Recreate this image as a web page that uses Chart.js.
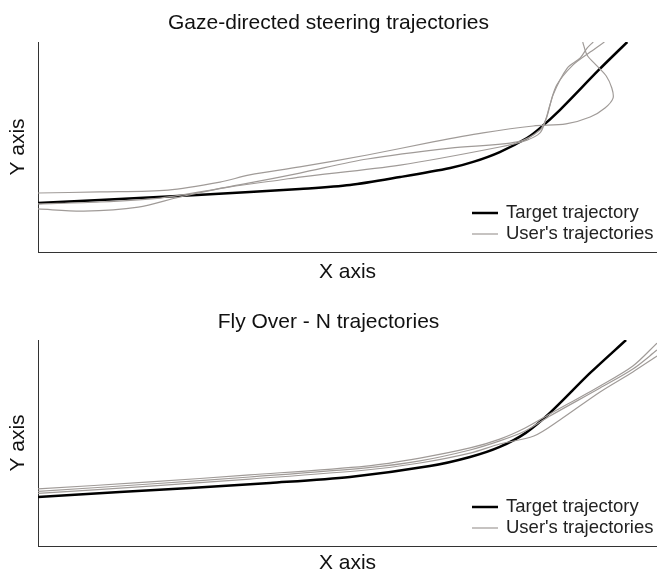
<!DOCTYPE html>
<html>
<head>
<meta charset="utf-8">
<script src="https://cdn.jsdelivr.net/npm/chart.js@4/dist/chart.umd.min.js"></script>
<style>
  html, body { margin: 0; padding: 0; background: #fff; overflow: hidden; }
  body { width: 657px; height: 572px; position: relative; }
  canvas { position: absolute; left: 0; }
  #chart1 { top: 0; }
  #chart2 { top: 286px; }
</style>
</head>
<body>
<canvas id="chart1" width="657" height="286"></canvas>
<canvas id="chart2" width="657" height="292"></canvas>
<script>
// chart 1 - gaze-directed steering
const gazeTargetX = [0, 10.0, 25.7, 34.2, 42.3, 50.4, 58.5, 66.6, 70.3, 74.6, 79.0, 81.1, 84.3, 90.6, 95.2];
const gazeTargetY = [23.3, 24.8, 27.1, 28.6, 30.0, 31.9, 35.7, 40.0, 42.9, 47.6, 54.3, 59.0, 67.6, 86.7, 100];

const gazeUser1X = [0, 10.0, 21.0, 29.4, 34.2, 42.3, 53.2, 63.8, 71.9, 80.0, 85.3, 89.2, 91.6, 92.9, 92.7, 91.8, 90.3, 88.7, 88.0];
const gazeUser1Y = [28.1, 28.6, 29.5, 33.3, 36.7, 40.5, 46.2, 52.4, 56.7, 60.0, 61.0, 64.3, 68.6, 73.3, 78.1, 83.8, 88.6, 93.8, 100];

const gazeUser2X = [0, 7.4, 16.2, 22.9, 31.0, 39.1, 42.3, 58.5, 74.6, 79.0, 81.1, 81.9, 82.7, 83.8, 86.4, 89.2, 91.5];
const gazeUser2Y = [20.5, 19.5, 21.4, 26.2, 31.0, 34.3, 35.7, 41.4, 50.0, 53.3, 56.7, 61.9, 70.0, 79.5, 89.0, 95.2, 100];

const gazeUser3X = [0, 10.0, 19.7, 26.2, 34.2, 42.3, 53.2, 66.6, 77.4, 81.1, 82.2, 83.2, 85.5, 87.6, 88.7, 89.7];
const gazeUser3Y = [22.9, 23.8, 25.7, 28.6, 32.9, 37.6, 44.3, 49.5, 52.4, 58.1, 64.3, 74.8, 87.6, 92.4, 97.1, 100];

// chart 2 - fly over
const flyTargetX = [0, 13.2, 24.6, 37.5, 50.4, 63.3, 69.8, 74.6, 78.8, 82.7, 89.2, 95.0];
const flyTargetY = [23.8, 26.2, 28.2, 30.6, 33.5, 38.8, 43.2, 48.1, 54.9, 64.6, 84.0, 100];

const flyUser1X = [0, 18.1, 34.2, 53.0, 61.7, 69.8, 74.6, 78.7, 82.7, 90.8, 96.1, 100];
const flyUser1Y = [27.7, 31.1, 34.5, 38.8, 42.7, 47.6, 51.9, 57.3, 64.1, 77.7, 87.4, 98.5];

const flyUser2X = [0, 18.1, 34.2, 53.0, 61.7, 69.8, 74.6, 78.7, 82.7, 90.8, 96.1, 100];
const flyUser2Y = [26.5, 30.1, 33.5, 37.9, 41.3, 46.6, 51.0, 55.8, 63.1, 76.7, 85.9, 95.1];

const flyUser3X = [0, 18.1, 34.2, 53.0, 61.7, 69.8, 74.6, 80.1, 84.3, 90.8, 96.1, 100];
const flyUser3Y = [25.5, 29.1, 32.5, 36.9, 40.3, 45.1, 49.5, 53.4, 61.2, 74.8, 84.5, 92.2];

const legendLabels = ['Target trajectory', "User's trajectories"];

const fontFam = '"Liberation Sans", Arial, Helvetica, sans-serif';
const targetColor = '#000000';
const userColor = '#a09b98';

function pts(xs, ys) {
    return xs.map((x, i) => ({ x: x, y: ys[i] }));
}

function line(xs, ys, color, width) {
    return {
        data: pts(xs, ys),
        showLine: true,
        borderColor: color,
        backgroundColor: color,
        borderWidth: width,
        pointRadius: 0,
        tension: 0.3
    };
}

// legend drawn inside plot, lower right
const insideLegend = {
    id: 'insideLegend',
    afterDraw(chart) {
        const { ctx, chartArea } = chart;
        const x0 = chartArea.right - 185;
        const rows = [
            { y: chartArea.bottom - 39, color: targetColor, w: 2.5 },
            { y: chartArea.bottom - 18, color: userColor, w: 1.2 }
        ];
        ctx.save();
        ctx.font = '18.5px ' + fontFam;
        ctx.textBaseline = 'middle';
        rows.forEach((r, i) => {
            ctx.strokeStyle = r.color;
            ctx.lineWidth = r.w;
            ctx.beginPath();
            ctx.moveTo(x0, r.y);
            ctx.lineTo(x0 + 26, r.y);
            ctx.stroke();
            ctx.fillStyle = '#222';
            ctx.fillText(legendLabels[i], x0 + 34, r.y);
        });
        ctx.restore();
    }
};

function makeChart(id, title, datasets, pad) {
    const ctx = document.querySelector(id).getContext('2d');
    return new Chart(ctx, {
        type: 'scatter',
        data: { datasets: datasets },
        options: {
            responsive: false,
            animation: false,
            devicePixelRatio: 1,
            layout: { padding: 0 },
            plugins: {
                legend: { display: false },
                tooltip: { enabled: false },
                title: {
                    display: true,
                    text: title,
                    color: '#111',
                    font: { family: fontFam, size: 21, weight: 'normal', lineHeight: 1 },
                    padding: pad.title
                }
            },
            scales: {
                x: {
                    type: 'linear', min: 0, max: 100,
                    grid: { display: false, drawTicks: false },
                    ticks: { display: false },
                    border: { display: true, color: '#333', width: 1 },
                    title: {
                        display: true, text: 'X axis', color: '#111',
                        font: { family: fontFam, size: 21, lineHeight: 1 },
                        padding: pad.x
                    }
                },
                y: {
                    type: 'linear', min: 0, max: 100,
                    grid: { display: false, drawTicks: false },
                    ticks: { display: false },
                    border: { display: true, color: '#333', width: 1 },
                    title: {
                        display: true, text: 'Y axis', color: '#111',
                        font: { family: fontFam, size: 21, lineHeight: 1 },
                        padding: { top: 7.5, bottom: 9.5 }
                    }
                }
            }
        },
        plugins: [insideLegend]
    });
}

makeChart('#chart1', 'Gaze-directed steering trajectories', [
    line(gazeUser1X, gazeUser1Y, userColor, 1.2),
    line(gazeUser2X, gazeUser2Y, userColor, 1.2),
    line(gazeUser3X, gazeUser3Y, userColor, 1.2),
    line(gazeTargetX, gazeTargetY, targetColor, 2.5)
], { title: { top: 12.5, bottom: 8.5 }, x: { top: 9.5, bottom: 3.5 } });

makeChart('#chart2', 'Fly Over - N trajectories', [
    line(flyUser1X, flyUser1Y, userColor, 1.2),
    line(flyUser2X, flyUser2Y, userColor, 1.2),
    line(flyUser3X, flyUser3Y, userColor, 1.2),
    line(flyTargetX, flyTargetY, targetColor, 2.5)
], { title: { top: 25.5, bottom: 7.5 }, x: { top: 6.5, bottom: 4.5 } });
</script>
</body>
</html>
